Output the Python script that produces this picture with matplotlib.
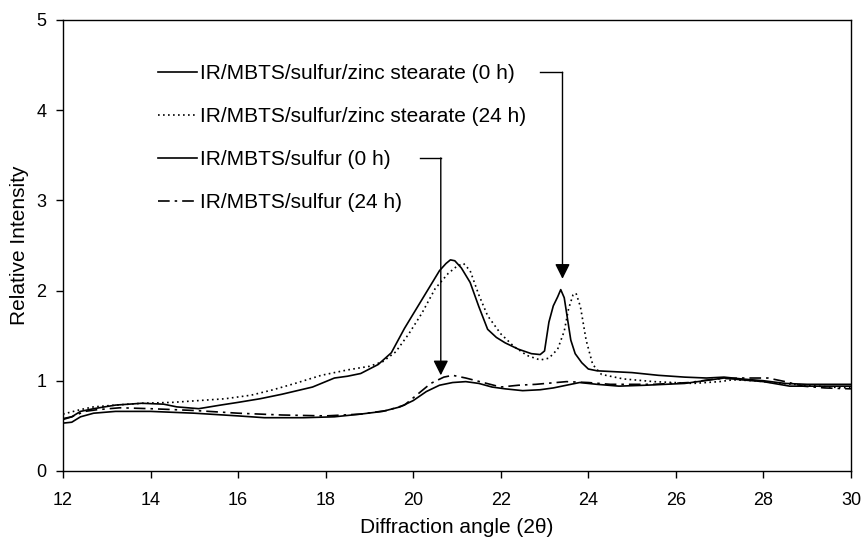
import matplotlib
matplotlib.use("Agg")
import matplotlib.pyplot as plt

plt.rcParams['font.family'] = ['Liberation Sans', 'DejaVu Sans']

# IR/MBTS/sulfur/zinc stearate, 0 h
zs0_x = [12.0, 12.2, 12.4, 12.7, 13.2, 13.8, 14.3, 14.6, 15.1, 15.6, 16.0, 16.5, 17.0, 17.7,
         18.0, 18.2, 18.5, 18.8, 19.2, 19.5, 19.8, 20.1, 20.4, 20.6, 20.75, 20.85, 20.95, 21.1,
         21.3, 21.5, 21.7, 21.9, 22.1, 22.4, 22.7, 22.9, 23.0, 23.1, 23.2, 23.3, 23.37, 23.45,
         23.52, 23.6, 23.7, 23.85, 24.0, 24.2, 24.6, 25.0, 25.6, 26.2, 26.7, 27.1, 27.5, 28.0,
         28.5, 29.0, 29.5, 30.0]
zs0_y = [0.58, 0.60, 0.66, 0.69, 0.73, 0.75, 0.74, 0.71, 0.69, 0.73, 0.76, 0.80, 0.85, 0.93,
         0.99, 1.03, 1.05, 1.08, 1.18, 1.31, 1.58, 1.82, 2.06, 2.22, 2.30, 2.34, 2.33, 2.25,
         2.09, 1.82, 1.57, 1.48, 1.42, 1.35, 1.30, 1.29, 1.33, 1.65, 1.83, 1.93, 2.01, 1.92,
         1.70, 1.45, 1.30, 1.20, 1.13, 1.11, 1.10, 1.09, 1.06, 1.04, 1.03, 1.04, 1.02, 1.00,
         0.97, 0.96, 0.96, 0.96]

# IR/MBTS/sulfur/zinc stearate, 24 h
zs24_x = [12.0, 12.4, 12.7, 13.2, 13.8, 14.5, 15.1, 15.7, 16.3, 16.8, 17.3, 17.9, 18.5, 19.0,
          19.3, 19.6, 19.9, 20.2, 20.5, 20.8, 21.0, 21.15, 21.3, 21.5, 21.7, 22.0, 22.3, 22.6,
          22.9, 23.1, 23.3, 23.45, 23.55, 23.65, 23.72, 23.82, 23.95, 24.1, 24.3, 24.8, 25.5,
          26.4, 27.0, 27.3, 27.8, 28.4, 29.0, 29.5, 30.0]
zs24_y = [0.63, 0.68, 0.71, 0.73, 0.75, 0.76, 0.78, 0.80, 0.84, 0.90, 0.97, 1.06, 1.12, 1.16,
          1.21, 1.32, 1.52, 1.75, 2.02, 2.19, 2.27, 2.30, 2.22, 1.95, 1.72, 1.52, 1.38, 1.28,
          1.23, 1.25, 1.35, 1.55, 1.80, 1.95, 1.97, 1.82, 1.45, 1.18, 1.07, 1.02, 0.99,
          0.97, 0.99, 1.01, 1.00, 0.97, 0.95, 0.93, 0.92]

# IR/MBTS/sulfur, 0 h
s0_x = [12.0, 12.2, 12.4, 12.7, 13.2, 14.0, 15.0, 16.0, 16.6, 17.5, 18.2, 18.8, 19.3, 19.7,
        20.0, 20.3, 20.6, 20.9, 21.2, 21.5, 21.8, 22.1, 22.5, 22.9, 23.2, 23.5, 23.8, 24.2,
        24.7, 25.3, 26.2, 26.8, 27.1, 27.5, 28.0, 28.6, 29.2, 30.0]
s0_y = [0.53, 0.54, 0.60, 0.64, 0.66, 0.66, 0.64, 0.61, 0.59, 0.59, 0.60, 0.63, 0.66, 0.71,
        0.78, 0.88, 0.95, 0.98, 0.99, 0.97, 0.93, 0.91, 0.89, 0.90, 0.92, 0.95, 0.98, 0.96,
        0.94, 0.95, 0.97, 1.01, 1.03, 1.01, 0.99, 0.94, 0.94, 0.94]

# IR/MBTS/sulfur, 24 h
s24_x = [12.0, 12.2, 12.5, 12.8, 13.3, 14.0, 15.0, 16.0, 17.0, 18.0, 18.8, 19.4, 19.8, 20.1,
         20.4, 20.7, 20.9, 21.2, 21.6, 22.0, 22.4, 22.8, 23.5, 24.0, 24.5, 25.5, 26.3, 26.9,
         27.5, 28.1, 28.5, 28.9, 29.4, 30.0]
s24_y = [0.57, 0.60, 0.66, 0.68, 0.70, 0.69, 0.67, 0.64, 0.62, 0.61, 0.63, 0.67, 0.73, 0.85,
         0.97, 1.04, 1.06, 1.03, 0.98, 0.93, 0.95, 0.96, 0.99, 0.98, 0.96, 0.96, 0.98, 1.02,
         1.03, 1.03, 0.99, 0.94, 0.92, 0.91]

labels = ["IR/MBTS/sulfur/zinc stearate (0 h)",
          "IR/MBTS/sulfur/zinc stearate (24 h)",
          "IR/MBTS/sulfur (0 h)",
          "IR/MBTS/sulfur (24 h)"]

x_ticks = [12, 14, 16, 18, 20, 22, 24, 26, 28, 30]
y_ticks = [0, 1, 2, 3, 4, 5]

# callout arrows: (text-side start x, corner x, level y, tip y)
arrow_zs = (22.90, 23.41, 4.42, 2.13)
arrow_s = (20.15, 20.63, 3.47, 1.06)

fig = plt.figure(figsize=(8.62, 5.46), dpi=100)
ax = fig.add_axes([0.0731, 0.1375, 0.9141, 0.8260])

lw = 1.2
ax.plot(zs0_x, zs0_y, color='black', lw=lw, ls='-', label=labels[0])
ax.plot(zs24_x, zs24_y, color='black', lw=lw, ls=(0, (1, 2)), label=labels[1])
ax.plot(s0_x, s0_y, color='black', lw=lw, ls='-', label=labels[2])
ax.plot(s24_x, s24_y, color='black', lw=lw, ls=(0, (7, 3, 1.5, 3)), label=labels[3])

for x0, xc, yl, yt in (arrow_zs, arrow_s):
    ax.plot([x0, xc], [yl, yl], color='black', lw=1.0)
    ax.annotate('', xy=(xc, yt), xytext=(xc, yl),
                arrowprops=dict(arrowstyle='-|>,head_length=0.9,head_width=0.45',
                                mutation_scale=10, color='black', lw=1.0,
                                shrinkA=0, shrinkB=0))

ax.set_xlim(12, 30)
ax.set_ylim(0, 5)
ax.set_xticks(x_ticks)
ax.set_yticks(y_ticks)
ax.tick_params(direction='out', length=5, width=1, labelsize=13)
ax.tick_params(axis='x', pad=10)
ax.tick_params(axis='y', pad=7)
for s in ax.spines.values():
    s.set_linewidth(1.0)
    s.set_color('black')

ax.set_xlabel("Diffraction angle (2\u03b8)", fontsize=15, labelpad=7)
ax.set_ylabel("Relative Intensity", fontsize=15, labelpad=5)

leg = ax.legend(loc='upper left', bbox_to_anchor=(158 / 862, 1 - 64 / 546),
                bbox_transform=fig.transFigure, frameon=False, fontsize=15,
                handlelength=1.87, handletextpad=0.15, labelspacing=1.15,
                borderpad=0, borderaxespad=0)

fig.savefig("out.png", dpi=100)
